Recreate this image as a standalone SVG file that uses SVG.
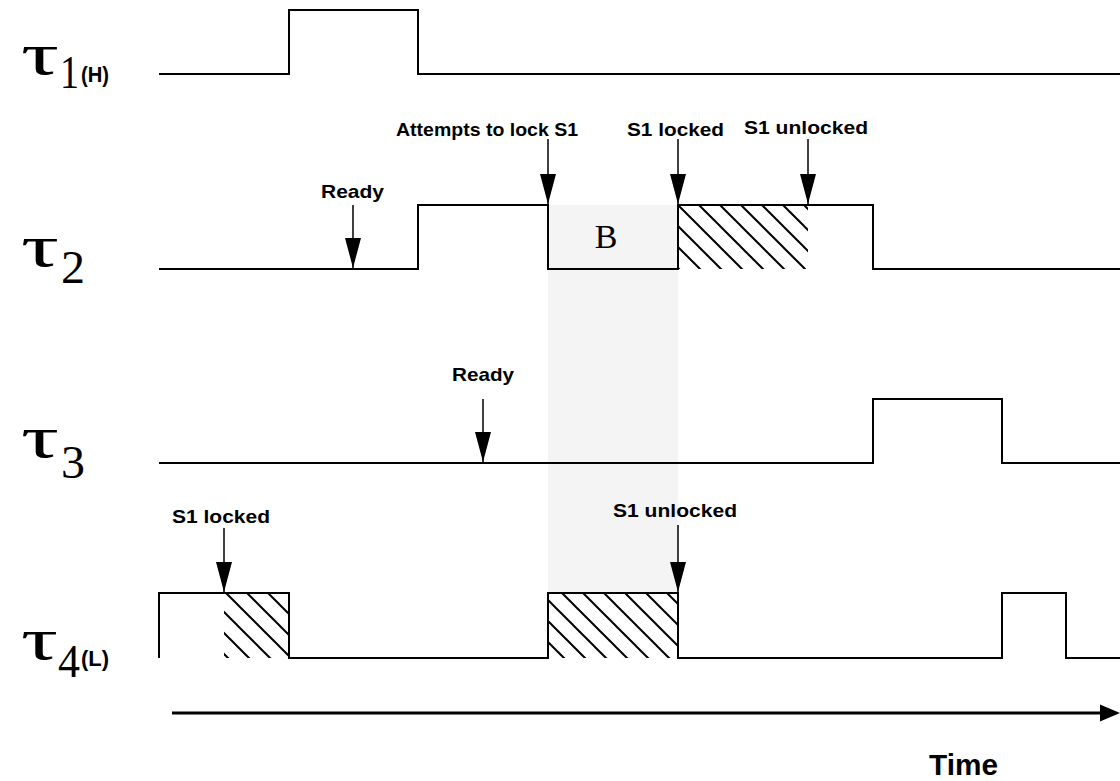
<svg xmlns="http://www.w3.org/2000/svg" width="1120" height="781" viewBox="0 0 1120 781">
<style>
.wave{fill:none;stroke:#000;stroke-width:2}
.arr{stroke:#000;stroke-width:1.5}
.lbl{font-family:"Liberation Sans",Arial,sans-serif;font-weight:bold;font-size:19px;fill:#000}
.tau{font-family:"Liberation Serif","Times New Roman",serif;font-size:60px;fill:#000}
.sub{font-family:"Liberation Serif","Times New Roman",serif;font-size:46px;fill:#000}
.pri{font-family:"Liberation Sans",Arial,sans-serif;font-weight:bold;font-size:22px;fill:#000}
</style>
<defs>
<pattern id="hatch" patternUnits="userSpaceOnUse" x="678" y="205" width="21" height="21">
<path d="M-3,-3 L24,24 M-3,18 L3,24 M18,-3 L24,3" stroke="#000" stroke-width="2"/>
</pattern>
<marker id="ah" markerUnits="userSpaceOnUse" markerWidth="30" markerHeight="16" viewBox="0 0 30 16" refX="30" refY="8" orient="auto">
<path d="M0,0 L30,8 L0,16 z" fill="#000"/>
</marker>
</defs>
<g id="blocking-band">
<rect x="548" y="205" width="130" height="388" fill="#f4f4f4"/>
</g>
<g id="hatches">
<rect x="678" y="205" width="130" height="64" fill="url(#hatch)"/>
<rect x="224" y="593" width="65" height="65" fill="#fff"/>
<rect x="224" y="593" width="65" height="65" fill="url(#hatch)"/>
<rect x="548" y="593" width="130" height="65" fill="#fff"/>
<rect x="548" y="593" width="130" height="65" fill="url(#hatch)"/>
</g>
<g id="tau1">
<text class="tau" x="21" y="74" textLength="38" lengthAdjust="spacingAndGlyphs">τ</text>
<text class="sub" x="60" y="88" textLength="19" lengthAdjust="spacingAndGlyphs">1</text>
<text class="pri" x="81" y="82" textLength="28" lengthAdjust="spacingAndGlyphs">(H)</text>
<polyline class="wave" points="159,74 289,74 289,10 418,10 418,74 1120,74"/>
</g>
<g id="tau2">
<text class="tau" x="21" y="266" textLength="38" lengthAdjust="spacingAndGlyphs">τ</text>
<text class="sub" x="61" y="283" textLength="24" lengthAdjust="spacingAndGlyphs">2</text>
<polyline class="wave" points="159,269 418,269 418,205 548,205 548,269 678,269 678,205 873,205 873,269 1120,269"/>
<text x="606" y="248" text-anchor="middle" font-family="Liberation Serif,Times New Roman,serif" font-size="34">B</text>
</g>
<g id="tau3">
<text class="tau" x="21" y="457" textLength="38" lengthAdjust="spacingAndGlyphs">τ</text>
<text class="sub" x="61" y="478" textLength="24" lengthAdjust="spacingAndGlyphs">3</text>
<polyline class="wave" points="159,463 873,463 873,399 1002,399 1002,463 1120,463"/>
</g>
<g id="tau4">
<text class="tau" x="21" y="659" textLength="37" lengthAdjust="spacingAndGlyphs">τ</text>
<text class="sub" x="58" y="677" textLength="22" lengthAdjust="spacingAndGlyphs">4</text>
<text class="pri" x="81" y="666" textLength="28" lengthAdjust="spacingAndGlyphs">(L)</text>
<polyline class="wave" points="159,658 159,593 289,593 289,658 548,658 548,593 678,593 678,658 1002,658 1002,593 1066,593 1066,658 1120,658"/>
</g>
<g id="connectors">
<line class="arr" x1="548" y1="139" x2="548" y2="204" marker-end="url(#ah)"/>
<line class="arr" x1="678" y1="139" x2="678" y2="204" marker-end="url(#ah)"/>
<line class="arr" x1="808" y1="139" x2="808" y2="204" marker-end="url(#ah)"/>
<line class="arr" x1="353" y1="205" x2="353" y2="268" marker-end="url(#ah)"/>
<line class="arr" x1="483" y1="399" x2="483" y2="462" marker-end="url(#ah)"/>
<line class="arr" x1="224" y1="528" x2="224" y2="592" marker-end="url(#ah)"/>
<line class="arr" x1="678" y1="525" x2="678" y2="592" marker-end="url(#ah)"/>
<line x1="172" y1="713" x2="1102" y2="713" stroke="#000" stroke-width="3"/>
<polygon points="1100,704.5 1120,713 1100,721.5" fill="#000"/>
</g>
<g id="labels">
<text class="lbl" x="396" y="136" textLength="182" lengthAdjust="spacingAndGlyphs">Attempts to lock S1</text>
<text class="lbl" x="627" y="136" textLength="97" lengthAdjust="spacingAndGlyphs">S1 locked</text>
<text class="lbl" x="744" y="134" textLength="124" lengthAdjust="spacingAndGlyphs">S1 unlocked</text>
<text class="lbl" x="321" y="198" textLength="63" lengthAdjust="spacingAndGlyphs">Ready</text>
<text class="lbl" x="452" y="381" textLength="62" lengthAdjust="spacingAndGlyphs">Ready</text>
<text class="lbl" x="172" y="523" textLength="98" lengthAdjust="spacingAndGlyphs">S1 locked</text>
<text class="lbl" x="613" y="517" textLength="124" lengthAdjust="spacingAndGlyphs">S1 unlocked</text>
<text class="lbl" x="929" y="775" style="font-size:30px" textLength="69" lengthAdjust="spacingAndGlyphs">Time</text>
</g>
</svg>
